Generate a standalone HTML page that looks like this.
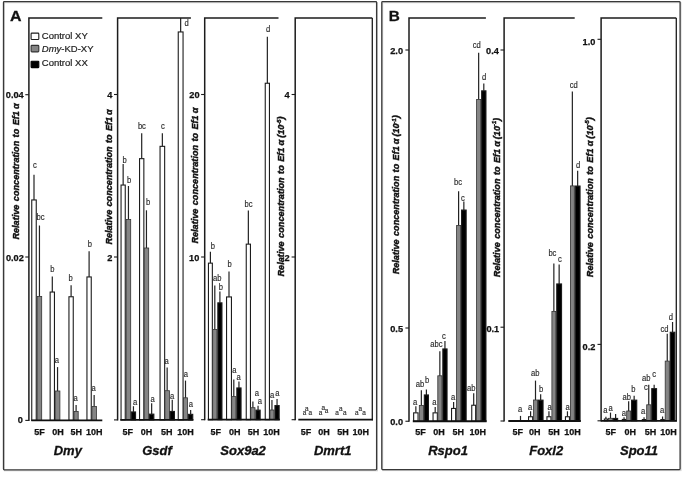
<!DOCTYPE html>
<html><head><meta charset="utf-8"><title>Figure</title>
<style>
html,body{margin:0;padding:0;background:#fff;}
body{width:685px;height:477px;overflow:hidden;}
svg{display:block;will-change:transform;font-family:"Liberation Sans",sans-serif;}
.let{font-size:8.2px;fill:#2a2a2a;text-anchor:middle;stroke:#2a2a2a;stroke-width:0.15px;}
.tk{font-size:9.2px;font-weight:bold;fill:#111;text-anchor:end;stroke:#111;stroke-width:0.25px;}
.xl{font-size:9px;font-weight:bold;fill:#111;text-anchor:middle;stroke:#111;stroke-width:0.25px;}
.ti{font-size:13px;font-weight:bold;font-style:italic;fill:#111;text-anchor:middle;stroke:#111;stroke-width:0.3px;}
.yl{font-size:9.7px;font-weight:bold;font-style:italic;fill:#111;stroke:#111;stroke-width:0.45px;word-spacing:0.9px;}
.sup{font-size:6px;}
.pn{font-size:15.5px;font-weight:bold;fill:#111;stroke:#111;stroke-width:0.3px;}
.lg{font-size:9.5px;fill:#222;stroke:#222;stroke-width:0.2px;}
</style></head>
<body>
<svg width="685" height="477" viewBox="0 0 685 477">
<defs><filter id="soft" x="0" y="0" width="100%" height="100%" filterUnits="userSpaceOnUse" color-interpolation-filters="sRGB"><feGaussianBlur stdDeviation="0.38"/></filter></defs>
<rect x="0" y="0" width="685" height="477" fill="#fff"/>
<g filter="url(#soft)">
<rect x="0" y="0" width="685" height="477" fill="#fff"/>
<rect x="4.4" y="2.7" width="373.1" height="468.1" fill="none" stroke="#d2d2d2" stroke-width="1.0"/>
<rect x="382.7" y="2.7" width="298.3" height="467.9" fill="none" stroke="#d2d2d2" stroke-width="1.0"/>
<rect x="3.5" y="1.6" width="373.1" height="468.2" rx="0.8" fill="none" stroke="#383838" stroke-width="1.3"/>
<rect x="381.8" y="1.6" width="298.3" height="468.0" rx="0.8" fill="none" stroke="#383838" stroke-width="1.3"/>
<line x1="34.00" y1="174.80" x2="34.00" y2="199.90" stroke="#222" stroke-width="1.2"/>
<rect x="31.75" y="199.95" width="4.50" height="220.45" fill="#ffffff" stroke="#1c1c1c" stroke-width="1.1"/>
<text transform="translate(35.00 167.70) scale(0.93 1)" class="let">c</text>
<line x1="39.45" y1="225.50" x2="39.45" y2="296.50" stroke="#222" stroke-width="1.2"/>
<rect x="37.20" y="296.40" width="4.50" height="124.00" fill="#858585" stroke="#333" stroke-width="0.8"/>
<text transform="translate(40.60 220.30) scale(0.93 1)" class="let">bc</text>
<line x1="52.30" y1="276.40" x2="52.30" y2="292.00" stroke="#222" stroke-width="1.2"/>
<rect x="50.15" y="292.05" width="4.30" height="128.35" fill="#ffffff" stroke="#1c1c1c" stroke-width="1.1"/>
<text transform="translate(52.40 272.20) scale(0.93 1)" class="let">b</text>
<line x1="57.55" y1="367.10" x2="57.55" y2="391.10" stroke="#222" stroke-width="1.2"/>
<rect x="55.20" y="391.00" width="4.70" height="29.40" fill="#858585" stroke="#333" stroke-width="0.8"/>
<text transform="translate(56.80 362.90) scale(0.93 1)" class="let">a</text>
<line x1="71.10" y1="285.20" x2="71.10" y2="296.70" stroke="#222" stroke-width="1.2"/>
<rect x="68.95" y="296.75" width="4.30" height="123.65" fill="#ffffff" stroke="#1c1c1c" stroke-width="1.1"/>
<text transform="translate(70.60 280.50) scale(0.93 1)" class="let">b</text>
<line x1="76.10" y1="405.00" x2="76.10" y2="411.50" stroke="#222" stroke-width="1.2"/>
<rect x="74.00" y="411.40" width="4.20" height="9.00" fill="#858585" stroke="#333" stroke-width="0.8"/>
<text transform="translate(75.50 401.40) scale(0.93 1)" class="let">a</text>
<line x1="89.10" y1="251.30" x2="89.10" y2="276.90" stroke="#222" stroke-width="1.2"/>
<rect x="86.95" y="276.95" width="4.30" height="143.45" fill="#ffffff" stroke="#1c1c1c" stroke-width="1.1"/>
<text transform="translate(89.90 246.60) scale(0.93 1)" class="let">b</text>
<line x1="94.15" y1="395.00" x2="94.15" y2="406.50" stroke="#222" stroke-width="1.2"/>
<rect x="91.90" y="406.40" width="4.50" height="14.00" fill="#858585" stroke="#333" stroke-width="0.8"/>
<text transform="translate(93.70 390.60) scale(0.93 1)" class="let">a</text>
<path d="M102.30 18.0 H28.90 V421.00" fill="none" stroke="#1c1c1c" stroke-width="1.5"/>
<line x1="31.30" y1="420.4" x2="102.30" y2="420.4" stroke="#111" stroke-width="1.8"/>
<line x1="25.30" y1="94.70" x2="28.90" y2="94.70" stroke="#1c1c1c" stroke-width="1.1"/>
<text x="23.70" y="98.30" class="tk">0.04</text>
<line x1="25.30" y1="257.00" x2="28.90" y2="257.00" stroke="#1c1c1c" stroke-width="1.1"/>
<text x="23.80" y="260.70" class="tk">0.02</text>
<line x1="25.30" y1="420.40" x2="28.90" y2="420.40" stroke="#1c1c1c" stroke-width="1.1"/>
<text x="22.80" y="423.30" class="tk">0</text>
<text x="39.50" y="434.7" class="xl">5F</text>
<text x="58.00" y="434.7" class="xl">0H</text>
<text x="76.20" y="434.7" class="xl">5H</text>
<text x="94.20" y="434.7" class="xl">10H</text>
<text x="67.80" y="455.2" class="ti">Dmy</text>
<text transform="translate(19.40 239.60) rotate(-90)" class="yl" textLength="136.2" lengthAdjust="spacingAndGlyphs">Relative concentration to Ef1<tspan dx="2.2">&#945;</tspan></text>
<line x1="123.15" y1="164.00" x2="123.15" y2="185.00" stroke="#222" stroke-width="1.2"/>
<rect x="121.05" y="185.05" width="4.20" height="234.85" fill="#ffffff" stroke="#1c1c1c" stroke-width="1.1"/>
<text transform="translate(124.70 162.50) scale(0.93 1)" class="let">b</text>
<line x1="128.45" y1="186.00" x2="128.45" y2="219.60" stroke="#222" stroke-width="1.2"/>
<rect x="126.20" y="219.50" width="4.50" height="200.40" fill="#858585" stroke="#333" stroke-width="0.8"/>
<text transform="translate(129.00 182.50) scale(0.93 1)" class="let">b</text>
<line x1="133.45" y1="406.20" x2="133.45" y2="411.90" stroke="#222" stroke-width="1.2"/>
<rect x="131.35" y="411.95" width="4.20" height="7.95" fill="#000000" stroke="#1c1c1c" stroke-width="1.1"/>
<text transform="translate(135.20 405.30) scale(0.93 1)" class="let">a</text>
<line x1="141.70" y1="133.20" x2="141.70" y2="158.60" stroke="#222" stroke-width="1.2"/>
<rect x="139.55" y="158.65" width="4.30" height="261.25" fill="#ffffff" stroke="#1c1c1c" stroke-width="1.1"/>
<text transform="translate(141.90 128.90) scale(0.93 1)" class="let">bc</text>
<line x1="146.45" y1="210.30" x2="146.45" y2="248.10" stroke="#222" stroke-width="1.2"/>
<rect x="144.20" y="248.00" width="4.50" height="171.90" fill="#858585" stroke="#333" stroke-width="0.8"/>
<text transform="translate(148.00 205.00) scale(0.93 1)" class="let">b</text>
<line x1="151.65" y1="403.20" x2="151.65" y2="414.10" stroke="#222" stroke-width="1.2"/>
<rect x="149.45" y="414.15" width="4.40" height="5.75" fill="#000000" stroke="#1c1c1c" stroke-width="1.1"/>
<text transform="translate(152.50 402.00) scale(0.93 1)" class="let">a</text>
<line x1="162.35" y1="133.20" x2="162.35" y2="146.30" stroke="#222" stroke-width="1.2"/>
<rect x="160.05" y="146.35" width="4.60" height="273.55" fill="#ffffff" stroke="#1c1c1c" stroke-width="1.1"/>
<text transform="translate(163.00 128.90) scale(0.93 1)" class="let">c</text>
<line x1="167.15" y1="367.40" x2="167.15" y2="390.80" stroke="#222" stroke-width="1.2"/>
<rect x="164.90" y="390.70" width="4.50" height="29.20" fill="#858585" stroke="#333" stroke-width="0.8"/>
<text transform="translate(166.60 363.60) scale(0.93 1)" class="let">a</text>
<line x1="172.25" y1="399.70" x2="172.25" y2="411.40" stroke="#222" stroke-width="1.2"/>
<rect x="170.05" y="411.45" width="4.40" height="8.45" fill="#000000" stroke="#1c1c1c" stroke-width="1.1"/>
<text transform="translate(172.00 398.70) scale(0.93 1)" class="let">a</text>
<line x1="180.65" y1="18.00" x2="180.65" y2="31.90" stroke="#222" stroke-width="1.2"/>
<rect x="178.25" y="31.95" width="4.80" height="387.95" fill="#ffffff" stroke="#1c1c1c" stroke-width="1.1"/>
<text transform="translate(186.50 25.90) scale(0.93 1)" class="let">d</text>
<line x1="185.50" y1="380.60" x2="185.50" y2="397.90" stroke="#222" stroke-width="1.2"/>
<rect x="183.40" y="397.80" width="4.20" height="22.10" fill="#858585" stroke="#333" stroke-width="0.8"/>
<text transform="translate(185.90 376.60) scale(0.93 1)" class="let">a</text>
<line x1="190.65" y1="410.00" x2="190.65" y2="414.30" stroke="#222" stroke-width="1.2"/>
<rect x="188.55" y="414.35" width="4.20" height="5.55" fill="#000000" stroke="#1c1c1c" stroke-width="1.1"/>
<text transform="translate(190.90 406.80) scale(0.93 1)" class="let">a</text>
<path d="M190.90 18.0 H117.60 V420.50" fill="none" stroke="#1c1c1c" stroke-width="1.5"/>
<line x1="120.30" y1="419.9" x2="193.40" y2="419.9" stroke="#111" stroke-width="1.8"/>
<line x1="114.00" y1="94.50" x2="117.60" y2="94.50" stroke="#1c1c1c" stroke-width="1.1"/>
<text x="112.40" y="98.20" class="tk">4</text>
<line x1="114.00" y1="257.00" x2="117.60" y2="257.00" stroke="#1c1c1c" stroke-width="1.1"/>
<text x="112.40" y="260.70" class="tk">2</text>
<line x1="114.00" y1="419.90" x2="117.60" y2="419.90" stroke="#1c1c1c" stroke-width="1.1"/>
<text x="127.80" y="434.7" class="xl">5F</text>
<text x="146.40" y="434.7" class="xl">0H</text>
<text x="166.80" y="434.7" class="xl">5H</text>
<text x="185.40" y="434.7" class="xl">10H</text>
<text x="157.00" y="455.2" class="ti">Gsdf</text>
<text transform="translate(111.80 244.60) rotate(-90)" class="yl" textLength="135.3" lengthAdjust="spacingAndGlyphs">Relative concentration to Ef1<tspan dx="2.2">&#945;</tspan></text>
<line x1="210.40" y1="251.80" x2="210.40" y2="263.10" stroke="#222" stroke-width="1.2"/>
<rect x="208.45" y="263.15" width="3.90" height="156.55" fill="#ffffff" stroke="#1c1c1c" stroke-width="1.1"/>
<text transform="translate(212.90 248.60) scale(0.93 1)" class="let">b</text>
<line x1="214.80" y1="285.50" x2="214.80" y2="329.50" stroke="#222" stroke-width="1.2"/>
<rect x="212.70" y="329.40" width="4.20" height="90.30" fill="#858585" stroke="#333" stroke-width="0.8"/>
<text transform="translate(217.30 280.90) scale(0.93 1)" class="let">ab</text>
<line x1="219.90" y1="291.50" x2="219.90" y2="302.80" stroke="#222" stroke-width="1.2"/>
<rect x="217.85" y="302.85" width="4.10" height="116.85" fill="#000000" stroke="#1c1c1c" stroke-width="1.1"/>
<text transform="translate(220.80 290.30) scale(0.93 1)" class="let">b</text>
<line x1="229.00" y1="271.40" x2="229.00" y2="296.90" stroke="#222" stroke-width="1.2"/>
<rect x="226.55" y="296.95" width="4.90" height="122.75" fill="#ffffff" stroke="#1c1c1c" stroke-width="1.1"/>
<text transform="translate(229.60 266.80) scale(0.93 1)" class="let">b</text>
<line x1="233.80" y1="379.40" x2="233.80" y2="396.70" stroke="#222" stroke-width="1.2"/>
<rect x="231.70" y="396.60" width="4.20" height="23.10" fill="#858585" stroke="#333" stroke-width="0.8"/>
<text transform="translate(234.30 372.50) scale(0.93 1)" class="let">a</text>
<line x1="238.95" y1="381.50" x2="238.95" y2="387.90" stroke="#222" stroke-width="1.2"/>
<rect x="236.85" y="387.95" width="4.20" height="31.75" fill="#000000" stroke="#1c1c1c" stroke-width="1.1"/>
<text transform="translate(238.70 379.80) scale(0.93 1)" class="let">a</text>
<line x1="248.35" y1="210.40" x2="248.35" y2="244.10" stroke="#222" stroke-width="1.2"/>
<rect x="246.25" y="244.15" width="4.20" height="175.55" fill="#ffffff" stroke="#1c1c1c" stroke-width="1.1"/>
<text transform="translate(248.60 206.70) scale(0.93 1)" class="let">bc</text>
<line x1="252.90" y1="401.40" x2="252.90" y2="407.80" stroke="#222" stroke-width="1.2"/>
<rect x="250.80" y="407.70" width="4.20" height="12.00" fill="#858585" stroke="#333" stroke-width="0.8"/>
<text transform="translate(256.80 396.20) scale(0.93 1)" class="let">a</text>
<line x1="258.05" y1="405.80" x2="258.05" y2="410.10" stroke="#222" stroke-width="1.2"/>
<rect x="255.95" y="410.15" width="4.20" height="9.55" fill="#000000" stroke="#1c1c1c" stroke-width="1.1"/>
<text transform="translate(259.80 404.10) scale(0.93 1)" class="let">a</text>
<line x1="267.35" y1="36.70" x2="267.35" y2="83.20" stroke="#222" stroke-width="1.2"/>
<rect x="265.25" y="83.25" width="4.20" height="336.45" fill="#ffffff" stroke="#1c1c1c" stroke-width="1.1"/>
<text transform="translate(268.00 32.00) scale(0.93 1)" class="let">d</text>
<line x1="271.95" y1="400.00" x2="271.95" y2="410.10" stroke="#222" stroke-width="1.2"/>
<rect x="269.90" y="410.00" width="4.10" height="9.70" fill="#858585" stroke="#333" stroke-width="0.8"/>
<text transform="translate(272.10 398.30) scale(0.93 1)" class="let">a</text>
<line x1="277.05" y1="399.10" x2="277.05" y2="405.50" stroke="#222" stroke-width="1.2"/>
<rect x="274.95" y="405.55" width="4.20" height="14.15" fill="#000000" stroke="#1c1c1c" stroke-width="1.1"/>
<text transform="translate(277.40 395.90) scale(0.93 1)" class="let">a</text>
<path d="M278.50 18.0 H204.70 V420.30" fill="none" stroke="#1c1c1c" stroke-width="1.5"/>
<line x1="207.70" y1="419.7" x2="279.80" y2="419.7" stroke="#111" stroke-width="1.8"/>
<line x1="201.10" y1="94.50" x2="204.70" y2="94.50" stroke="#1c1c1c" stroke-width="1.1"/>
<text x="199.50" y="98.20" class="tk">20</text>
<line x1="201.10" y1="257.00" x2="204.70" y2="257.00" stroke="#1c1c1c" stroke-width="1.1"/>
<text x="199.30" y="260.70" class="tk">10</text>
<line x1="201.10" y1="419.70" x2="204.70" y2="419.70" stroke="#1c1c1c" stroke-width="1.1"/>
<text x="215.70" y="434.7" class="xl">5F</text>
<text x="234.70" y="434.7" class="xl">0H</text>
<text x="253.60" y="434.7" class="xl">5H</text>
<text x="271.50" y="434.7" class="xl">10H</text>
<text x="243.10" y="455.2" class="ti">Sox9a2</text>
<text transform="translate(198.20 243.60) rotate(-90)" class="yl" textLength="136.0" lengthAdjust="spacingAndGlyphs">Relative concentration to Ef1<tspan dx="2.2">&#945;</tspan></text>
<text transform="translate(304.50 414.70) scale(0.92 1)" class="let" style="font-size:7px">a</text>
<text transform="translate(306.80 410.50) scale(0.92 1)" class="let" style="font-size:7px">a</text>
<text transform="translate(310.20 414.70) scale(0.92 1)" class="let" style="font-size:7px">a</text>
<text transform="translate(320.60 414.70) scale(0.92 1)" class="let" style="font-size:7px">a</text>
<text transform="translate(323.20 410.10) scale(0.92 1)" class="let" style="font-size:7px">a</text>
<text transform="translate(326.60 413.30) scale(0.92 1)" class="let" style="font-size:7px">a</text>
<text transform="translate(337.00 414.70) scale(0.92 1)" class="let" style="font-size:7px">a</text>
<text transform="translate(340.80 410.90) scale(0.92 1)" class="let" style="font-size:7px">a</text>
<text transform="translate(344.90 414.70) scale(0.92 1)" class="let" style="font-size:7px">a</text>
<text transform="translate(356.80 414.70) scale(0.92 1)" class="let" style="font-size:7px">a</text>
<text transform="translate(360.20 410.90) scale(0.92 1)" class="let" style="font-size:7px">a</text>
<text transform="translate(364.00 414.70) scale(0.92 1)" class="let" style="font-size:7px">a</text>
<path d="M372.30 18.0 H295.20 V420.30" fill="none" stroke="#1c1c1c" stroke-width="1.5"/>
<line x1="372.30" y1="18.0" x2="372.30" y2="420.30" stroke="#1c1c1c" stroke-width="1.3"/>
<line x1="298.30" y1="419.7" x2="373.00" y2="419.7" stroke="#111" stroke-width="1.8"/>
<line x1="291.60" y1="94.50" x2="295.20" y2="94.50" stroke="#1c1c1c" stroke-width="1.1"/>
<text x="289.60" y="98.20" class="tk">4</text>
<line x1="291.60" y1="257.00" x2="295.20" y2="257.00" stroke="#1c1c1c" stroke-width="1.1"/>
<text x="289.70" y="260.70" class="tk">2</text>
<line x1="291.60" y1="419.70" x2="295.20" y2="419.70" stroke="#1c1c1c" stroke-width="1.1"/>
<text x="305.90" y="434.7" class="xl">5F</text>
<text x="324.00" y="434.7" class="xl">0H</text>
<text x="342.90" y="434.7" class="xl">5H</text>
<text x="360.80" y="434.7" class="xl">10H</text>
<text x="332.70" y="455.2" class="ti">Dmrt1</text>
<text transform="translate(284.30 276.50) rotate(-90)" class="yl" textLength="160.1" lengthAdjust="spacingAndGlyphs">Relative concentration to Ef1<tspan dx="2.2">&#945;</tspan><tspan dx="2.1">(10</tspan><tspan class="sup" dy="-3.6">-5</tspan><tspan dy="3.6">)</tspan></text>
<line x1="415.85" y1="406.20" x2="415.85" y2="412.80" stroke="#222" stroke-width="1.2"/>
<rect x="413.65" y="412.85" width="4.40" height="8.40" fill="#ffffff" stroke="#1c1c1c" stroke-width="1.1"/>
<text transform="translate(415.00 404.50) scale(0.93 1)" class="let">a</text>
<line x1="421.35" y1="390.30" x2="421.35" y2="405.50" stroke="#222" stroke-width="1.2"/>
<rect x="419.30" y="405.40" width="4.10" height="15.85" fill="#858585" stroke="#333" stroke-width="0.8"/>
<text transform="translate(420.00 387.20) scale(0.93 1)" class="let">ab</text>
<line x1="426.40" y1="389.40" x2="426.40" y2="394.90" stroke="#222" stroke-width="1.2"/>
<rect x="424.35" y="394.95" width="4.10" height="26.30" fill="#000000" stroke="#1c1c1c" stroke-width="1.1"/>
<text transform="translate(427.00 383.30) scale(0.93 1)" class="let">b</text>
<line x1="435.20" y1="407.00" x2="435.20" y2="412.80" stroke="#222" stroke-width="1.2"/>
<rect x="433.05" y="412.85" width="4.30" height="8.40" fill="#ffffff" stroke="#1c1c1c" stroke-width="1.1"/>
<text transform="translate(434.30 405.30) scale(0.93 1)" class="let">a</text>
<line x1="439.85" y1="351.30" x2="439.85" y2="375.90" stroke="#222" stroke-width="1.2"/>
<rect x="437.80" y="375.80" width="4.10" height="45.45" fill="#858585" stroke="#333" stroke-width="0.8"/>
<text transform="translate(436.50 347.30) scale(0.93 1)" class="let">abc</text>
<line x1="444.95" y1="341.00" x2="444.95" y2="348.90" stroke="#222" stroke-width="1.2"/>
<rect x="442.85" y="348.95" width="4.20" height="72.30" fill="#000000" stroke="#1c1c1c" stroke-width="1.1"/>
<text transform="translate(444.00 339.40) scale(0.93 1)" class="let">c</text>
<line x1="453.60" y1="402.00" x2="453.60" y2="408.40" stroke="#222" stroke-width="1.2"/>
<rect x="451.55" y="408.45" width="4.10" height="12.80" fill="#ffffff" stroke="#1c1c1c" stroke-width="1.1"/>
<text transform="translate(453.10 399.50) scale(0.93 1)" class="let">a</text>
<line x1="458.60" y1="191.30" x2="458.60" y2="225.50" stroke="#222" stroke-width="1.2"/>
<rect x="456.60" y="225.40" width="4.00" height="195.85" fill="#858585" stroke="#333" stroke-width="0.8"/>
<text transform="translate(458.10 185.20) scale(0.93 1)" class="let">bc</text>
<line x1="463.85" y1="201.60" x2="463.85" y2="210.00" stroke="#222" stroke-width="1.2"/>
<rect x="461.55" y="210.05" width="4.60" height="211.20" fill="#000000" stroke="#1c1c1c" stroke-width="1.1"/>
<text transform="translate(463.00 201.40) scale(0.93 1)" class="let">c</text>
<line x1="473.70" y1="393.30" x2="473.70" y2="405.20" stroke="#222" stroke-width="1.2"/>
<rect x="471.75" y="405.25" width="3.90" height="16.00" fill="#ffffff" stroke="#1c1c1c" stroke-width="1.1"/>
<text transform="translate(471.30 390.70) scale(0.93 1)" class="let">ab</text>
<line x1="478.65" y1="52.80" x2="478.65" y2="99.50" stroke="#222" stroke-width="1.2"/>
<rect x="476.60" y="99.40" width="4.10" height="321.85" fill="#858585" stroke="#333" stroke-width="0.8"/>
<text transform="translate(476.80 48.20) scale(0.93 1)" class="let">cd</text>
<line x1="483.80" y1="83.60" x2="483.80" y2="90.80" stroke="#222" stroke-width="1.2"/>
<rect x="481.65" y="90.85" width="4.30" height="330.40" fill="#000000" stroke="#1c1c1c" stroke-width="1.1"/>
<text transform="translate(484.20 80.40) scale(0.93 1)" class="let">d</text>
<path d="M485.90 18.0 H409.00 V421.85" fill="none" stroke="#1c1c1c" stroke-width="1.5"/>
<line x1="412.80" y1="421.25" x2="486.60" y2="421.25" stroke="#111" stroke-width="1.8"/>
<line x1="405.40" y1="50.00" x2="409.00" y2="50.00" stroke="#1c1c1c" stroke-width="1.1"/>
<text x="403.00" y="54.20" class="tk">2.0</text>
<line x1="405.40" y1="328.00" x2="409.00" y2="328.00" stroke="#1c1c1c" stroke-width="1.1"/>
<text x="403.00" y="332.20" class="tk">0.5</text>
<line x1="405.40" y1="421.25" x2="409.00" y2="421.25" stroke="#1c1c1c" stroke-width="1.1"/>
<text x="403.00" y="425.45" class="tk">0.0</text>
<text x="420.60" y="434.7" class="xl">5F</text>
<text x="439.10" y="434.7" class="xl">0H</text>
<text x="458.30" y="434.7" class="xl">5H</text>
<text x="477.80" y="434.7" class="xl">10H</text>
<text x="448.00" y="455.2" class="ti">Rspo1</text>
<text transform="translate(399.40 274.30) rotate(-90)" class="yl" textLength="159.0" lengthAdjust="spacingAndGlyphs">Relative concentration to Ef1<tspan dx="2.2">&#945;</tspan><tspan dx="2.1">(10</tspan><tspan class="sup" dy="-3.6">-1</tspan><tspan dy="3.6">)</tspan></text>
<line x1="520.50" y1="415.90" x2="520.50" y2="421.00" stroke="#222" stroke-width="1.2"/>
<text transform="translate(520.20 411.90) scale(0.93 1)" class="let">a</text>
<line x1="530.60" y1="411.30" x2="530.60" y2="416.70" stroke="#222" stroke-width="1.2"/>
<rect x="528.55" y="416.75" width="4.10" height="4.25" fill="#ffffff" stroke="#1c1c1c" stroke-width="1.1"/>
<text transform="translate(530.10 410.00) scale(0.93 1)" class="let">a</text>
<line x1="535.50" y1="380.60" x2="535.50" y2="400.10" stroke="#222" stroke-width="1.2"/>
<rect x="533.60" y="400.00" width="3.80" height="21.00" fill="#858585" stroke="#333" stroke-width="0.8"/>
<text transform="translate(535.30 376.10) scale(0.93 1)" class="let">ab</text>
<line x1="540.65" y1="394.30" x2="540.65" y2="400.10" stroke="#222" stroke-width="1.2"/>
<rect x="538.25" y="400.15" width="4.80" height="20.85" fill="#000000" stroke="#1c1c1c" stroke-width="1.1"/>
<text transform="translate(541.00 392.10) scale(0.93 1)" class="let">b</text>
<line x1="548.95" y1="411.30" x2="548.95" y2="416.70" stroke="#222" stroke-width="1.2"/>
<rect x="546.95" y="416.75" width="4.00" height="4.25" fill="#ffffff" stroke="#1c1c1c" stroke-width="1.1"/>
<text transform="translate(549.60 410.00) scale(0.93 1)" class="let">a</text>
<line x1="553.85" y1="263.50" x2="553.85" y2="311.50" stroke="#222" stroke-width="1.2"/>
<rect x="551.90" y="311.40" width="3.90" height="109.60" fill="#858585" stroke="#333" stroke-width="0.8"/>
<text transform="translate(552.40 255.60) scale(0.93 1)" class="let">bc</text>
<line x1="559.15" y1="264.60" x2="559.15" y2="283.90" stroke="#222" stroke-width="1.2"/>
<rect x="556.75" y="283.95" width="4.80" height="137.05" fill="#000000" stroke="#1c1c1c" stroke-width="1.1"/>
<text transform="translate(559.80 262.30) scale(0.93 1)" class="let">c</text>
<line x1="567.45" y1="411.30" x2="567.45" y2="416.70" stroke="#222" stroke-width="1.2"/>
<rect x="565.45" y="416.75" width="4.00" height="4.25" fill="#ffffff" stroke="#1c1c1c" stroke-width="1.1"/>
<text transform="translate(567.50 410.00) scale(0.93 1)" class="let">a</text>
<line x1="572.35" y1="91.50" x2="572.35" y2="186.00" stroke="#222" stroke-width="1.2"/>
<rect x="570.40" y="185.90" width="3.90" height="235.10" fill="#858585" stroke="#333" stroke-width="0.8"/>
<text transform="translate(573.80 87.70) scale(0.93 1)" class="let">cd</text>
<line x1="577.65" y1="170.80" x2="577.65" y2="186.00" stroke="#222" stroke-width="1.2"/>
<rect x="575.25" y="186.05" width="4.80" height="234.95" fill="#000000" stroke="#1c1c1c" stroke-width="1.1"/>
<text transform="translate(578.20 167.60) scale(0.93 1)" class="let">d</text>
<path d="M574.70 18.0 H504.10 V421.60" fill="none" stroke="#1c1c1c" stroke-width="1.5"/>
<line x1="508.30" y1="421.0" x2="580.80" y2="421.0" stroke="#111" stroke-width="1.8"/>
<line x1="500.50" y1="50.00" x2="504.10" y2="50.00" stroke="#1c1c1c" stroke-width="1.1"/>
<text x="498.80" y="54.20" class="tk">0.4</text>
<line x1="500.50" y1="327.20" x2="504.10" y2="327.20" stroke="#1c1c1c" stroke-width="1.1"/>
<text x="499.20" y="331.60" class="tk">0.1</text>
<line x1="500.50" y1="421.00" x2="504.10" y2="421.00" stroke="#1c1c1c" stroke-width="1.1"/>
<text x="517.80" y="434.7" class="xl">5F</text>
<text x="534.70" y="434.7" class="xl">0H</text>
<text x="554.00" y="434.7" class="xl">5H</text>
<text x="572.40" y="434.7" class="xl">10H</text>
<text x="546.20" y="455.2" class="ti">Foxl2</text>
<text transform="translate(499.80 277.20) rotate(-90)" class="yl" textLength="159.3" lengthAdjust="spacingAndGlyphs">Relative concentration to Ef1<tspan dx="2.2">&#945;</tspan><tspan dx="2.1">(10</tspan><tspan class="sup" dy="-3.6">-1</tspan><tspan dy="3.6">)</tspan></text>
<line x1="605.90" y1="416.80" x2="605.90" y2="419.00" stroke="#222" stroke-width="1.2"/>
<rect x="604.35" y="419.05" width="3.10" height="1.75" fill="#ffffff" stroke="#1c1c1c" stroke-width="1.1"/>
<text transform="translate(605.30 413.30) scale(0.93 1)" class="let">a</text>
<line x1="610.50" y1="412.60" x2="610.50" y2="418.40" stroke="#222" stroke-width="1.2"/>
<rect x="608.40" y="418.30" width="4.20" height="2.50" fill="#858585" stroke="#333" stroke-width="0.8"/>
<text transform="translate(610.60 410.70) scale(0.93 1)" class="let">a</text>
<line x1="615.60" y1="413.90" x2="615.60" y2="418.40" stroke="#222" stroke-width="1.2"/>
<rect x="613.55" y="418.45" width="4.10" height="2.35" fill="#000000" stroke="#1c1c1c" stroke-width="1.1"/>
<line x1="624.05" y1="417.20" x2="624.05" y2="419.40" stroke="#222" stroke-width="1.2"/>
<rect x="622.35" y="419.45" width="3.40" height="1.35" fill="#ffffff" stroke="#1c1c1c" stroke-width="1.1"/>
<text transform="translate(623.80 415.90) scale(0.93 1)" class="let">a</text>
<line x1="628.65" y1="401.30" x2="628.65" y2="411.10" stroke="#222" stroke-width="1.2"/>
<rect x="626.70" y="411.00" width="3.90" height="9.80" fill="#858585" stroke="#333" stroke-width="0.8"/>
<text transform="translate(626.70 400.10) scale(0.93 1)" class="let">ab</text>
<line x1="634.15" y1="395.70" x2="634.15" y2="400.10" stroke="#222" stroke-width="1.2"/>
<rect x="631.55" y="400.15" width="5.20" height="20.65" fill="#000000" stroke="#1c1c1c" stroke-width="1.1"/>
<text transform="translate(633.30 391.70) scale(0.93 1)" class="let">b</text>
<line x1="644.05" y1="417.20" x2="644.05" y2="419.50" stroke="#222" stroke-width="1.2"/>
<rect x="642.35" y="419.55" width="3.40" height="1.25" fill="#ffffff" stroke="#1c1c1c" stroke-width="1.1"/>
<text transform="translate(643.20 414.00) scale(0.93 1)" class="let">a</text>
<line x1="648.75" y1="384.80" x2="648.75" y2="404.90" stroke="#222" stroke-width="1.2"/>
<rect x="646.70" y="404.80" width="4.10" height="16.00" fill="#858585" stroke="#333" stroke-width="0.8"/>
<text transform="translate(646.30 380.90) scale(0.93 1)" class="let">ab</text>
<line x1="654.15" y1="384.80" x2="654.15" y2="388.60" stroke="#222" stroke-width="1.2"/>
<rect x="651.75" y="388.65" width="4.80" height="32.15" fill="#000000" stroke="#1c1c1c" stroke-width="1.1"/>
<text transform="translate(654.10 376.70) scale(0.93 1)" class="let">c</text>
<line x1="662.55" y1="416.50" x2="662.55" y2="419.50" stroke="#222" stroke-width="1.2"/>
<rect x="660.85" y="419.55" width="3.40" height="1.25" fill="#ffffff" stroke="#1c1c1c" stroke-width="1.1"/>
<text transform="translate(662.10 412.60) scale(0.93 1)" class="let">a</text>
<line x1="667.25" y1="333.70" x2="667.25" y2="361.20" stroke="#222" stroke-width="1.2"/>
<rect x="665.20" y="361.10" width="4.10" height="59.70" fill="#858585" stroke="#333" stroke-width="0.8"/>
<text transform="translate(664.50 332.00) scale(0.93 1)" class="let">cd</text>
<line x1="672.55" y1="322.00" x2="672.55" y2="332.20" stroke="#222" stroke-width="1.2"/>
<rect x="670.25" y="332.25" width="4.60" height="88.55" fill="#000000" stroke="#1c1c1c" stroke-width="1.1"/>
<text transform="translate(670.90 319.70) scale(0.93 1)" class="let">d</text>
<text transform="translate(645.90 389.50) scale(0.93 1)" class="let">c</text>
<path d="M676.30 18.0 H601.10 V421.40" fill="none" stroke="#1c1c1c" stroke-width="1.5"/>
<line x1="676.30" y1="18.0" x2="676.30" y2="421.40" stroke="#1c1c1c" stroke-width="1.3"/>
<line x1="601.10" y1="420.8" x2="676.80" y2="420.8" stroke="#111" stroke-width="1.8"/>
<line x1="597.50" y1="39.30" x2="601.10" y2="39.30" stroke="#1c1c1c" stroke-width="1.1"/>
<text x="595.30" y="45.10" class="tk">1.0</text>
<line x1="597.50" y1="344.40" x2="601.10" y2="344.40" stroke="#1c1c1c" stroke-width="1.1"/>
<text x="595.40" y="350.20" class="tk">0.2</text>
<line x1="597.50" y1="420.80" x2="601.10" y2="420.80" stroke="#1c1c1c" stroke-width="1.1"/>
<text x="610.80" y="434.7" class="xl">5F</text>
<text x="630.20" y="434.7" class="xl">0H</text>
<text x="650.60" y="434.7" class="xl">5H</text>
<text x="668.40" y="434.7" class="xl">10H</text>
<text x="639.00" y="455.2" class="ti">Spo11</text>
<text transform="translate(592.60 277.20) rotate(-90)" class="yl" textLength="159.9" lengthAdjust="spacingAndGlyphs">Relative concentration to Ef1<tspan dx="2.2">&#945;</tspan><tspan dx="2.1">(10</tspan><tspan class="sup" dy="-3.6">-5</tspan><tspan dy="3.6">)</tspan></text>
<text transform="translate(10.1 20.5) scale(1.03 1)" class="pn">A</text>
<text transform="translate(388.7 20.7) scale(0.99 1)" class="pn">B</text>
<rect x="31.1" y="33.1" width="7.7" height="6.4" rx="0.8" fill="#fff" stroke="#1c1c1c" stroke-width="1.1"/>
<rect x="31.1" y="45.4" width="7.7" height="6.5" rx="0.8" fill="#858585" stroke="#333" stroke-width="1.1"/>
<rect x="31.1" y="61.2" width="7.7" height="6.4" rx="0.5" fill="#000" stroke="#000" stroke-width="1.1"/>
<text x="41.8" y="38.9" class="lg">Control XY</text>
<text x="41.8" y="52.2" class="lg"><tspan font-style="italic">Dmy</tspan>-KD-XY</text>
<text x="41.8" y="65.6" class="lg">Control XX</text>
</g>
</svg>
</body></html>
